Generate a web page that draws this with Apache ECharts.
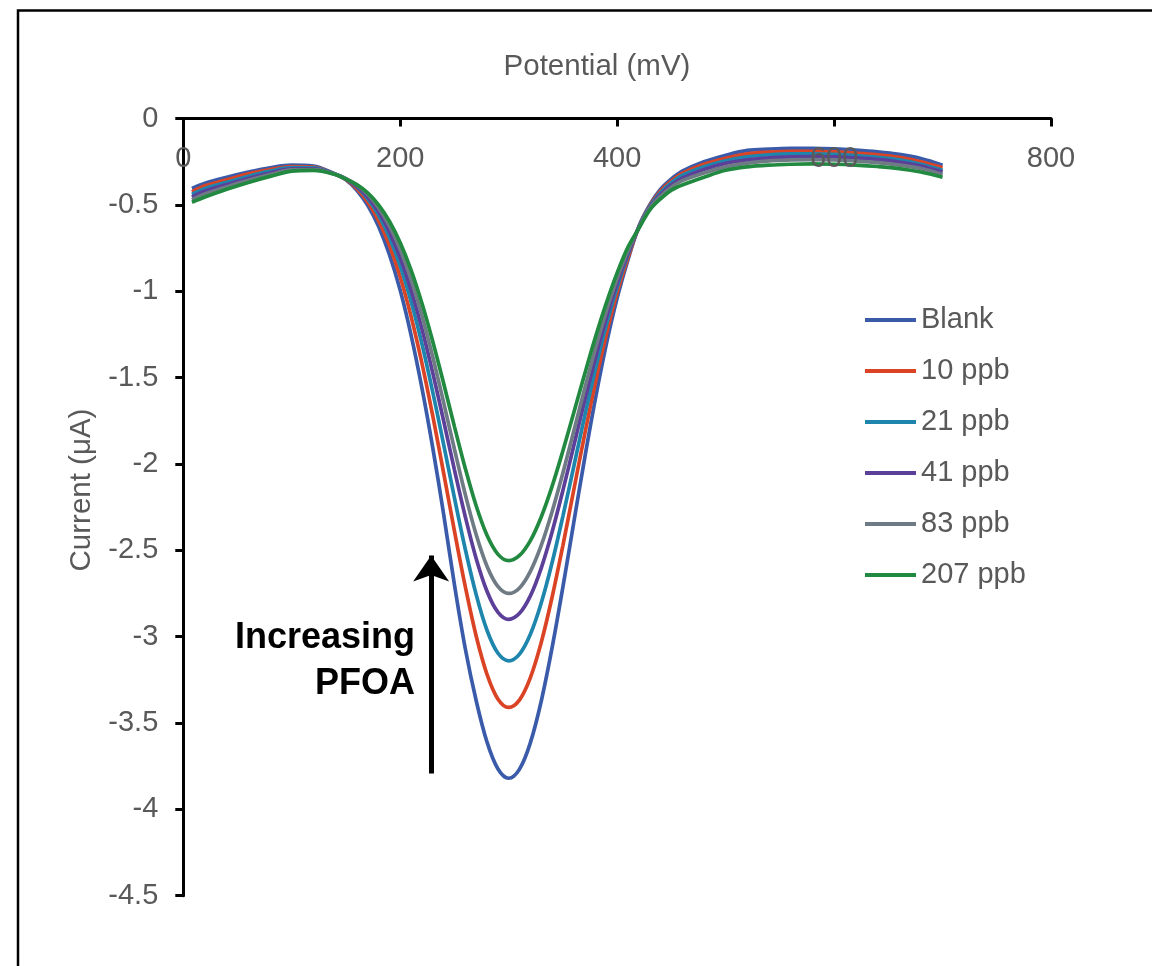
<!DOCTYPE html>
<html>
<head>
<meta charset="utf-8">
<script src="https://cdn.jsdelivr.net/npm/echarts@6.0.0/dist/echarts.min.js"></script>
<style>
html,body{margin:0;padding:0;background:#fff;}
#chart{width:1152px;height:966px;}
</style>
</head>
<body>
<div id="chart"></div>
<script>
// Potential (mV)
const potential = [8, 20, 40, 60, 80, 100, 120, 140, 150, 160, 170, 180, 190, 200, 210, 220, 230, 240, 250, 260, 270, 280, 290, 300, 310, 320, 330, 340, 350, 360, 370, 380, 390, 400, 410, 420, 430, 440, 450, 460, 480, 500, 520, 540, 560, 580, 600, 620, 640, 660, 680, 700];

// Current (µA) per concentration
const blank = [-0.405, -0.375, -0.34, -0.31, -0.285, -0.27, -0.275, -0.322, -0.355, -0.416, -0.503, -0.624, -0.787, -0.995, -1.254, -1.56, -1.907, -2.29, -2.70, -3.07, -3.37, -3.61, -3.765, -3.82, -3.767, -3.614, -3.374, -3.065, -2.712, -2.339, -1.969, -1.621, -1.308, -1.04, -0.818, -0.625, -0.50, -0.41, -0.35, -0.305, -0.25, -0.213, -0.185, -0.177, -0.173, -0.173, -0.176, -0.183, -0.193, -0.208, -0.232, -0.27];
const ppb10 = [-0.425, -0.39, -0.355, -0.32, -0.295, -0.278, -0.281, -0.322, -0.353, -0.406, -0.483, -0.59, -0.733, -0.918, -1.146, -1.416, -1.722, -2.052, -2.389, -2.711, -2.996, -3.218, -3.361, -3.41, -3.366, -3.237, -3.034, -2.772, -2.471, -2.151, -1.83, -1.526, -1.249, -1.008, -0.806, -0.628, -0.505, -0.42, -0.362, -0.318, -0.265, -0.23, -0.205, -0.195, -0.19, -0.19, -0.193, -0.2, -0.21, -0.225, -0.25, -0.285];
const ppb21 = [-0.44, -0.405, -0.37, -0.335, -0.305, -0.285, -0.286, -0.322, -0.35, -0.396, -0.464, -0.559, -0.687, -0.853, -1.059, -1.304, -1.584, -1.887, -2.197, -2.494, -2.756, -2.963, -3.095, -3.14, -3.101, -2.986, -2.805, -2.572, -2.302, -2.015, -1.725, -1.449, -1.196, -0.975, -0.788, -0.63, -0.51, -0.43, -0.372, -0.33, -0.28, -0.245, -0.222, -0.21, -0.205, -0.205, -0.208, -0.215, -0.225, -0.24, -0.265, -0.30];
const ppb41 = [-0.455, -0.42, -0.383, -0.347, -0.316, -0.292, -0.291, -0.323, -0.351, -0.392, -0.454, -0.539, -0.655, -0.806, -0.993, -1.217, -1.473, -1.75, -2.034, -2.306, -2.547, -2.737, -2.858, -2.90, -2.865, -2.764, -2.603, -2.394, -2.153, -1.895, -1.635, -1.385, -1.155, -0.952, -0.78, -0.632, -0.515, -0.44, -0.385, -0.345, -0.295, -0.26, -0.24, -0.228, -0.222, -0.22, -0.222, -0.228, -0.237, -0.252, -0.275, -0.31];
const ppb83 = [-0.47, -0.437, -0.396, -0.358, -0.325, -0.298, -0.296, -0.323, -0.349, -0.385, -0.439, -0.516, -0.62, -0.758, -0.932, -1.141, -1.381, -1.644, -1.915, -2.177, -2.409, -2.592, -2.709, -2.75, -2.718, -2.622, -2.472, -2.277, -2.052, -1.81, -1.566, -1.332, -1.116, -0.926, -0.764, -0.634, -0.52, -0.45, -0.398, -0.36, -0.315, -0.28, -0.258, -0.245, -0.24, -0.238, -0.24, -0.246, -0.255, -0.27, -0.29, -0.325];
const ppb207 = [-0.485, -0.455, -0.41, -0.37, -0.335, -0.305, -0.30, -0.324, -0.351, -0.383, -0.431, -0.50, -0.595, -0.72, -0.878, -1.07, -1.291, -1.533, -1.784, -2.026, -2.242, -2.413, -2.522, -2.56, -2.53, -2.444, -2.307, -2.13, -1.924, -1.704, -1.481, -1.266, -1.069, -0.894, -0.745, -0.636, -0.53, -0.465, -0.415, -0.385, -0.34, -0.30, -0.28, -0.27, -0.265, -0.263, -0.265, -0.27, -0.278, -0.29, -0.31, -0.34];

const seriesNames = ['Blank', '10 ppb', '21 ppb', '41 ppb', '83 ppb', '207 ppb'];
const seriesValues = [blank, ppb10, ppb21, ppb41, ppb83, ppb207];
const seriesColors = ['#3A5BAA', '#DB4325', '#1E86AD', '#5C3F98', '#6F7B84', '#228A40'];

// axis ticks
const xMin = 0, xMax = 800, xStep = 200;
const yMin = -4.5, yMax = 0, yStep = 0.5;

// annotation arrow (data coordinates)
const arrowX = 228.5;
const arrowFrom = -3.792;
const arrowTo = -2.53;

const FONT = '"Liberation Sans", Arial, sans-serif';
const chart = echarts.init(document.getElementById('chart'));

const lineSeries = seriesNames.map((name, i) => ({
  name: name,
  type: 'line',
  data: potential.map((x, j) => [x, seriesValues[i][j]]),
  showSymbol: false,
  symbol: 'none',
  smooth: 0.35,
  lineStyle: { color: seriesColors[i], width: 3.7 },
  itemStyle: { color: seriesColors[i] },
  z: 2 + i
}));

lineSeries.push({
  name: 'arrow',
  type: 'line',
  data: [],
  silent: true,
  z: 20,
  markLine: {
    silent: true,
    symbol: ['none', 'arrow'],
    symbolSize: [27, 26],
    label: { show: false },
    lineStyle: { color: '#000', width: 5, type: 'solid' },
    itemStyle: { color: '#000' },
    data: [[{ coord: [arrowX, arrowFrom] }, { coord: [arrowX, arrowTo] }]]
  }
});

chart.setOption({
  animation: false,
  backgroundColor: '#fff',
  grid: { left: 183.3, right: 101, top: 118.5, bottom: 70.3, outerBoundsMode: 'none' },
  xAxis: {
    type: 'value',
    position: 'top',
    z: 30,
    min: xMin, max: xMax, interval: xStep,
    axisLine: { show: true, onZero: false, lineStyle: { color: '#000', width: 3 } },
    axisTick: { show: true, inside: true, length: 8, lineStyle: { color: '#000', width: 3 } },
    axisLabel: { inside: true, margin: 26, color: '#595959', fontSize: 29, fontFamily: FONT },
    splitLine: { show: false }
  },
  yAxis: {
    type: 'value',
    z: 30,
    min: yMin, max: yMax, interval: yStep,
    axisLine: { show: true, onZero: false, lineStyle: { color: '#000', width: 3 } },
    axisTick: { show: true, inside: false, length: 8, lineStyle: { color: '#000', width: 3 } },
    axisLabel: { margin: 25, color: '#595959', fontSize: 29, fontFamily: FONT },
    splitLine: { show: false }
  },
  legend: {
    data: seriesNames,
    orient: 'vertical',
    left: 865,
    top: 305,
    padding: 0,
    icon: 'rect',
    itemWidth: 51,
    itemHeight: 4,
    itemGap: 21,
    textStyle: { color: '#595959', fontSize: 29, fontFamily: FONT, lineHeight: 30 }
  },
  series: lineSeries,
  graphic: [
    { type: 'rect', shape: { x: 18, y: 10.5, width: 1300, height: 1100 }, style: { fill: 'none', stroke: '#000', lineWidth: 2.5 }, silent: true },
    { type: 'text', x: 597, y: 67, style: { text: 'Potential (mV)', fill: '#595959', font: '29.5px ' + FONT, align: 'center', verticalAlign: 'middle' } },
    { type: 'text', x: 82, y: 490, rotation: Math.PI / 2, style: { text: 'Current (μA)', fill: '#595959', font: '29.5px ' + FONT, align: 'center', verticalAlign: 'middle' } },
    { type: 'text', x: 415, y: 638, style: { text: 'Increasing', fill: '#000', font: 'bold 36px ' + FONT, align: 'right', verticalAlign: 'middle' } },
    { type: 'text', x: 415, y: 684, style: { text: 'PFOA', fill: '#000', font: 'bold 36px ' + FONT, align: 'right', verticalAlign: 'middle' } }
  ]
});
</script>
</body>
</html>
